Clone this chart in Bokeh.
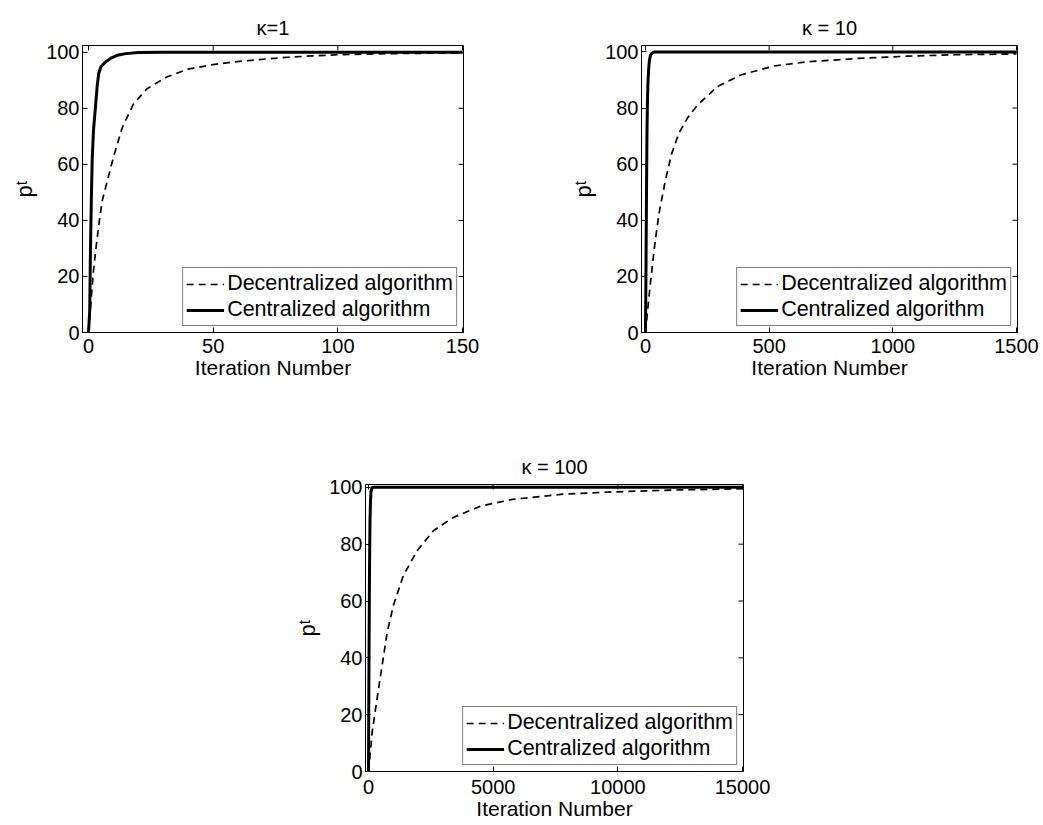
import math
from bokeh.plotting import figure
from bokeh.layouts import column, row
from bokeh.models import Spacer, Range1d, Legend, LegendItem, FixedTicker
from bokeh.embed import file_html
from bokeh.resources import INLINE

# ---------------- data ----------------
titles = ["\u03ba=1", "\u03ba = 10", "\u03ba = 100"]
y_ticks = [0, 20, 40, 60, 80, 100]
x_ticks_k1 = [0, 50, 100, 150]
x_ticks_k10 = [0, 500, 1000, 1500]
x_ticks_k100 = [0, 5000, 10000, 15000]

k1_dec_x = [0, 1, 2, 3, 4, 5.5, 7.5, 10, 13.5, 18, 23.5, 31.5, 40, 50, 58, 70, 80, 90, 100, 115, 130, 150]
k1_dec_y = [0, 11, 22, 30, 37.5, 47, 54, 62.5, 73, 81.5, 87, 91.2, 94, 95.6, 96.5, 97.5, 98.2, 98.7, 99.1, 99.4, 99.6, 99.7]
k1_cen_x = [0, 0.5, 0.8, 1.2, 1.5, 2, 2.8, 3.5, 4.1, 5, 6.8, 9, 11.5, 15, 20, 30, 50, 150]
k1_cen_y = [0, 8, 30, 50, 62, 72, 80.5, 88, 92.4, 94.8, 96.5, 97.9, 98.9, 99.5, 99.9, 100, 100, 100]

k10_dec_x = [0, 10, 20, 30, 40, 55, 80, 105, 135, 170, 210, 290, 385, 520, 655, 860, 1060, 1250, 1500]
k10_dec_y = [0, 9, 17.5, 25.5, 33, 42.5, 54, 63.5, 71, 76.5, 81, 87.6, 91.8, 95, 96.5, 97.7, 98.5, 99, 99.3]
k10_cen_x = [0, 2, 4, 6, 8, 10, 13, 16, 20, 25, 35, 60, 1500]
k10_cen_y = [0, 20, 47, 70, 82, 89, 94, 97, 98.7, 99.5, 100, 100, 100]

k100_dec_x = [0, 150, 350, 550, 750, 1000, 1400, 1950, 2600, 3400, 4500, 5800, 7800, 9800, 12500, 15000]
k100_dec_y = [0, 14, 26, 37.5, 49, 58.5, 69, 77.7, 84.7, 89.4, 93.4, 95.8, 97.6, 98.4, 99.1, 99.5]
k100_cen_x = [0, 20, 40, 60, 80, 100, 150, 15000]
k100_cen_y = [0, 40, 70, 88, 95, 98.5, 100, 100]

FONT = "Liberation Sans"


def style_axis(ax, ticks):
    ax.ticker = FixedTicker(ticks=ticks)
    ax.major_tick_in = 5
    ax.major_tick_out = 0
    ax.minor_tick_line_color = None
    ax.major_tick_line_color = "black"
    ax.axis_line_color = "black"
    ax.major_label_text_font = FONT
    ax.major_label_text_color = "black"
    ax.major_label_text_font_size = "20px"
    ax.axis_label_text_font = FONT
    ax.axis_label_text_color = "black"
    ax.axis_label_text_font_style = "normal"


def panel(title, width, height, borders, xr, yr, xticks, dx, dy, cx, cy, xstand):
    l, r, t, b = borders
    p = figure(width=width, height=height, x_range=Range1d(*xr), y_range=Range1d(*yr),
               output_backend="svg", toolbar_location=None,
               min_border_left=l, min_border_right=r, min_border_top=t, min_border_bottom=b,
               background_fill_color="white", border_fill_color="white")
    p.grid.visible = False
    p.outline_line_color = "black"
    p.outline_line_width = 1
    p.title.text = title
    p.title.align = "center"
    p.title.text_font = FONT
    p.title.text_font_size = "20px"
    p.title.text_font_style = "normal"
    p.title.text_color = "black"
    p.title.standoff = 14

    style_axis(p.xaxis[0], xticks)
    style_axis(p.yaxis[0], y_ticks)
    p.xaxis.major_label_standoff = xstand
    p.yaxis.major_label_standoff = 3
    p.xaxis.axis_label = "Iteration Number"
    p.xaxis.axis_label_text_font_size = "21px"
    p.xaxis.axis_label_standoff = 0
    p.yaxis.axis_label = "p\u1d57"
    p.yaxis.axis_label_text_font_size = "22px"
    p.yaxis.axis_label_standoff = 6

    # mirrored inward ticks on the top and right edges of the box
    p.scatter(xticks, [yr[1]] * len(xticks), marker="dash", size=10, angle=math.pi / 2,
              line_color="black", line_width=1)
    p.scatter([xr[1]] * len(y_ticks), y_ticks, marker="dash", size=10,
              line_color="black", line_width=1)

    dec = p.line(dx, dy, line_color="black", line_width=1.7, line_dash="7 5")
    cen = p.line(cx, cy, line_color="black", line_width=3)

    leg = Legend(items=[LegendItem(label="Decentralized algorithm", renderers=[dec]),
                        LegendItem(label="Centralized algorithm", renderers=[cen])],
                 location="bottom_right")
    leg.margin = 6
    leg.padding = 3
    leg.spacing = 1
    leg.glyph_width = 38
    leg.glyph_height = 22
    leg.label_height = 22
    leg.label_standoff = 3
    leg.label_text_font = FONT
    leg.label_text_font_size = "21.5px"
    leg.label_text_color = "black"
    leg.border_line_color = "black"
    leg.border_line_width = 1
    leg.background_fill_alpha = 1
    p.add_layout(leg)
    return p


p1 = panel(titles[0], 540, 416, (82, 77, 45, 84), (-2.4, 150.4), (0, 102.4), x_ticks_k1,
           k1_dec_x, k1_dec_y, k1_cen_x, k1_cen_y, 6)
p2 = panel(titles[1], 503, 416, (101, 26, 45, 84), (-16, 1504), (0, 102.3), x_ticks_k10,
           k10_dec_x, k10_dec_y, k10_cen_x, k10_cen_y, 6)
p3 = panel(titles[2], 543, 409, (85, 80, 68, 54), (-120, 15040), (0, 101), x_ticks_k100,
           k100_dec_x, k100_dec_y, k100_cen_x, k100_cen_y, 8)

layout = column(row(p1, p2), row(Spacer(width=280, height=409), p3))

open("out.html", "w").write(file_html(layout, INLINE))
